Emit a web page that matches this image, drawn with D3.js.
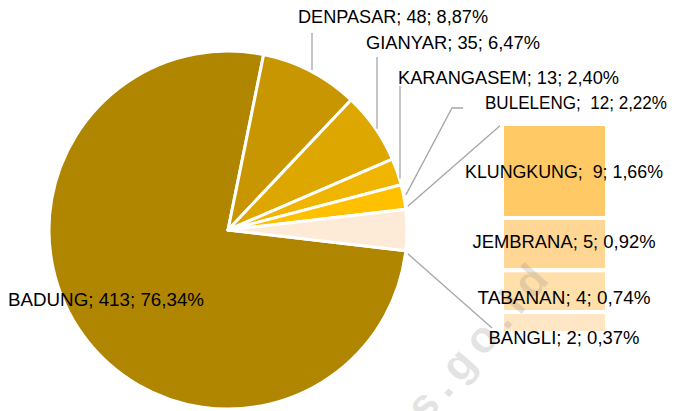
<!DOCTYPE html>
<html>
<head>
<meta charset="utf-8">
<script src="https://cdn.jsdelivr.net/npm/d3@7"></script>
<style>
	body { margin: 0; background: #fff; }
	text { font-family: "Liberation Sans", Arial, sans-serif; font-size: 18px; fill: #000; white-space: pre; }
</style>
</head>
<body>
<script>
// pie part
var pieNames = ["BADUNG", "DENPASAR", "GIANYAR", "KARANGASEM", "BULELENG"];
var pieValues = [413, 48, 35, 13, 12];
var pieColors = ["#b08500", "#c89600", "#dea700", "#f0b500", "#ffc000"];
var pieLabels = ["BADUNG; 413; 76,34%", "DENPASAR; 48; 8,87%", "GIANYAR; 35; 6,47%",
	"KARANGASEM; 13; 2,40%", "BULELENG;  12; 2,22%"];

// bar part (the "other" slice)
var barNames = ["KLUNGKUNG", "JEMBRANA", "TABANAN", "BANGLI"];
var barValues = [9, 5, 4, 2];
var barColors = ["#ffc966", "#ffd694", "#ffdfaa", "#ffe6c4"];
var barLabels = ["KLUNGKUNG;  9; 1,66%", "JEMBRANA; 5; 0,92%", "TABANAN; 4; 0,74%", "BANGLI; 2; 0,37%"];
var otherColor = "#fdebd8";

var width = 675, height = 411,
	cx = 228, cy = 230, r = 179;

var svg = d3.select("body").append("svg")
	.attr("width", width)
	.attr("height", height);

var otherTotal = d3.sum(barValues);
var slices = pieNames.map(function(n, i) {
	return {name: n, value: pieValues[i], color: pieColors[i], label: pieLabels[i]};
});
slices.push({name: "other", value: otherTotal, color: otherColor});

// other slice centred on 3 o'clock, the rest run clockwise from its lower edge
var total = d3.sum(slices, function(d) {return d.value;});
var half = Math.PI * otherTotal / total;
var start = Math.PI / 2 + half;
var pie = d3.pie()
	.sort(null)
	.value(function(d) {return d.value;})
	.startAngle(start)
	.endAngle(start + 2 * Math.PI);
var arcs = pie(slices);
var arc = d3.arc().innerRadius(0).outerRadius(r);

var g = svg.append("g")
	.attr("transform", "translate(" + cx + ", " + cy + ")");
g.selectAll("path")
	.data(arcs)
	.enter().append("path")
		.attr("d", arc)
		.attr("fill", function(d) {return d.data.color;})
		.attr("stroke", "#fff")
		.attr("stroke-width", 3)
		.attr("stroke-linejoin", "round");

function edge(a) {
	return [cx + r * Math.sin(a), cy - r * Math.cos(a)];
}

// bar stack
var barX = 502, barW = 105;
var y = d3.scaleLinear().domain([0, otherTotal]).range([124, 333]);
var cum = 0;
var bars = barValues.map(function(v, i) {
	var b = {v: v, y0: cum, y1: cum + v, color: barColors[i], label: barLabels[i]};
	cum += v;
	return b;
});

// connectors from the other slice to the bar
var oth = arcs[arcs.length - 1];
var pTop = edge(oth.startAngle + 2 * Math.PI), pBot = edge(oth.endAngle);
var conn = svg.append("g")
	.attr("stroke", "#a6a6a6")
	.attr("stroke-width", 1.3)
	.attr("fill", "none");
conn.append("line")
	.attr("x1", pTop[0] + 2).attr("y1", pTop[1] - 3)
	.attr("x2", barX).attr("y2", y(0));
conn.append("line")
	.attr("x1", pBot[0] + 2).attr("y1", pBot[1] + 3)
	.attr("x2", barX - 10).attr("y2", y(otherTotal) - 5);

svg.append("g").selectAll("rect")
	.data(bars)
	.enter().append("rect")
		.attr("x", barX)
		.attr("width", barW)
		.attr("y", function(d) {return y(d.y0);})
		.attr("height", function(d) {return y(d.y1) - y(d.y0);})
		.attr("fill", function(d) {return d.color;})
		.attr("stroke", "#fff")
		.attr("stroke-width", 4);

// watermark
svg.append("text")
	.attr("transform", "translate(426, 424) rotate(-49)")
	.attr("font-weight", "bold")
	.style("font-size", "44px")
	.style("letter-spacing", "8px")
	.style("fill", "#808080")
	.style("fill-opacity", 0.22)
	.text("s.go.id");

// bar labels (widths)
var barLabelY = [172, 242, 298, 338];
var barLabelW = [198, 183, 173, 151];
svg.append("g").selectAll("text")
	.data(bars)
	.enter().append("text")
		.attr("x", 564)
		.attr("y", function(d, i) {return barLabelY[i];})
		.attr("text-anchor", "middle")
		.attr("dominant-baseline", "central")
		.attr("textLength", function(d, i) {return barLabelW[i];})
		.attr("lengthAdjust", "spacingAndGlyphs")
		.text(function(d) {return d.label;});

// pie labels with leader lines
var labelPos = [[8, 300], [298, 17], [366, 43], [398, 78], [485, 103]];
var labelW = [196, 190, 174, 221, 182];
var leaders = [
	null,
	function(p) {return [[312, 33], [312, p[1]]];},
	function(p) {return [[377, 57], [377, p[1]]];},
	function(p) {return [[400, 86], [400, p[1]]];},
	function(p) {return [[463, 108], [452, 108], [p[0] + 2, p[1] - 2]];}
];
arcs.slice(0, pieNames.length).forEach(function(a, i) {
	var p;
	if (leaders[i]) {
		if (i < 4) {
			// point on the rim below the leader x
			var x = leaders[i]([0, 0])[0][0];
			p = [x, cy - Math.sqrt(r * r - (x - cx) * (x - cx)) - 2];
		} else {
			p = edge((a.startAngle + a.endAngle) / 2);
		}
		svg.append("path")
			.attr("d", d3.line()(leaders[i](p)))
			.attr("fill", "none")
			.attr("stroke", "#a6a6a6")
			.attr("stroke-width", 1.3);
	}
	svg.append("text")
		.attr("x", labelPos[i][0])
		.attr("y", labelPos[i][1])
		.attr("dominant-baseline", "central")
		.attr("textLength", labelW[i])
		.attr("lengthAdjust", "spacingAndGlyphs")
		.text(pieLabels[i]);
});
</script>
</body>
</html>
